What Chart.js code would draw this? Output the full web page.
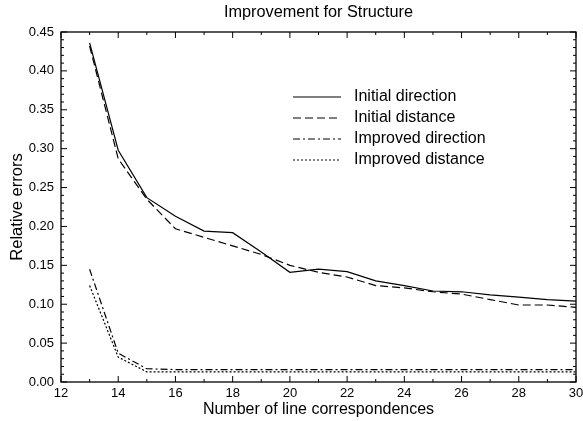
<!DOCTYPE html>
<html>
<head>
<meta charset="utf-8">
<script src="https://cdn.jsdelivr.net/npm/chart.js@4/dist/chart.umd.min.js"></script>
<style>
    html, body { margin: 0; padding: 0; background: #fff; }
    #wrap { width: 583px; height: 421px; }
</style>
</head>
<body>
<div id="wrap"><canvas id="chart"></canvas></div>
<script>
// Data
const lineCounts = [13, 14, 15, 16, 17, 18, 19, 20, 21, 22, 23, 24, 25, 26, 27, 28, 29, 30];
const initialDirection = [0.436, 0.298, 0.237, 0.213, 0.194, 0.192, 0.167, 0.141, 0.145, 0.142, 0.130, 0.124, 0.117, 0.116, 0.112, 0.109, 0.106, 0.104];
const initialDistance = [0.432, 0.287, 0.235, 0.197, 0.186, 0.175, 0.164, 0.150, 0.141, 0.135, 0.124, 0.121, 0.116, 0.113, 0.106, 0.099, 0.099, 0.096];
const improvedDirection = [0.145, 0.037, 0.017, 0.016, 0.016, 0.016, 0.016, 0.016, 0.016, 0.016, 0.016, 0.016, 0.016, 0.016, 0.016, 0.016, 0.016, 0.016];
const improvedDistance = [0.124, 0.032, 0.013, 0.013, 0.013, 0.013, 0.013, 0.013, 0.013, 0.013, 0.013, 0.013, 0.013, 0.013, 0.013, 0.013, 0.013, 0.013];
const seriesNames = ['Initial direction', 'Initial distance', 'Improved direction', 'Improved distance'];
const chartTitle = 'Improvement for Structure';
const dashes = [[], [8, 4], [7, 3, 2, 3], [2, 2]];

const FONT = '"Liberation Sans", Arial, Helvetica, sans-serif';
const toPoints = values => values.map((v, i) => ({ x: lineCounts[i], y: v }));

// inward ticks on all four sides + frame + title over the plot
const frameTicks = {
    id: 'frameTicks',
    afterDraw(chart) {
        const { ctx, chartArea: a, scales } = chart;
        ctx.save();
        ctx.strokeStyle = '#000';
        ctx.lineWidth = 1.3;
        ctx.strokeRect(a.left, a.top, a.right - a.left, a.bottom - a.top);
        ctx.lineWidth = 1;
        ctx.beginPath();
        for (let v = 12; v <= 30; v += 1) {
            const px = scales.x.getPixelForValue(v);
            const len = v % 2 === 0 ? 6 : 3;
            ctx.moveTo(px, a.bottom); ctx.lineTo(px, a.bottom - len);
            ctx.moveTo(px, a.top); ctx.lineTo(px, a.top + len);
        }
        for (let k = 0; k <= 45; k++) {
            const py = scales.y.getPixelForValue(k / 100);
            const len = k % 5 === 0 ? 6 : 3;
            ctx.moveTo(a.left, py); ctx.lineTo(a.left + len, py);
            ctx.moveTo(a.right, py); ctx.lineTo(a.right - len, py);
        }
        ctx.stroke();

        ctx.fillStyle = '#000';
        ctx.font = '16.3px ' + FONT;
        ctx.textAlign = 'center';
        ctx.textBaseline = 'middle';
        ctx.fillText(chartTitle, (a.left + a.right) / 2, 13);
        ctx.restore();
    }
};

// legend drawn inside the plot
const insideLegend = {
    id: 'insideLegend',
    afterDraw(chart) {
        const { ctx } = chart;
        ctx.save();
        ctx.font = '16px ' + FONT;
        ctx.fillStyle = '#000';
        ctx.strokeStyle = '#000';
        ctx.lineWidth = 1.1;
        ctx.textBaseline = 'middle';
        seriesNames.forEach((name, i) => {
            const y = 97 + i * 21;
            ctx.setLineDash(dashes[i]);
            ctx.beginPath();
            ctx.moveTo(293, y);
            ctx.lineTo(341, y);
            ctx.stroke();
            ctx.setLineDash([]);
            ctx.fillText(name, 354, y);
        });
        ctx.restore();
    }
};

const datasets = [initialDirection, initialDistance, improvedDirection, improvedDistance].map((values, i) => ({
    label: seriesNames[i],
    data: toPoints(values),
    borderColor: '#000',
    borderWidth: 1.2,
    borderDash: dashes[i],
    pointRadius: 0,
    tension: 0,
    fill: false
}));

new Chart(document.getElementById('chart'), {
    type: 'line',
    data: { datasets },
    options: {
        responsive: true,
        maintainAspectRatio: false,
        animation: false,
        layout: { padding: { top: 32, right: 7, left: 0, bottom: 0 } },
        plugins: {
            legend: { display: false },
            tooltip: { enabled: false },
            title: { display: false }
        },
        scales: {
            x: {
                type: 'linear',
                min: 12,
                max: 30,
                afterFit: s => { s.height = 39; s.paddingRight = 0; s.paddingLeft = 0; },
                ticks: { stepSize: 2, color: '#000', padding: 4, font: { family: FONT, size: 13 } },
                grid: { display: false, drawTicks: false },
                border: { display: false },
                title: {
                    display: true,
                    text: 'Number of line correspondences',
                    color: '#000',
                    font: { family: FONT, size: 16 },
                    padding: { top: 0, bottom: 2 }
                }
            },
            y: {
                min: 0,
                max: 0.45,
                afterFit: s => { s.width = 61; },
                ticks: {
                    stepSize: 0.05,
                    color: '#000',
                    padding: 7,
                    font: { family: FONT, size: 13 },
                    callback: v => v.toFixed(2)
                },
                grid: { display: false, drawTicks: false },
                border: { display: false },
                title: {
                    display: true,
                    text: 'Relative errors',
                    color: '#000',
                    font: { family: FONT, size: 16.5 },
                    padding: { top: 8, bottom: 8 }
                }
            }
        }
    },
    plugins: [frameTicks, insideLegend]
});
</script>
</body>
</html>
